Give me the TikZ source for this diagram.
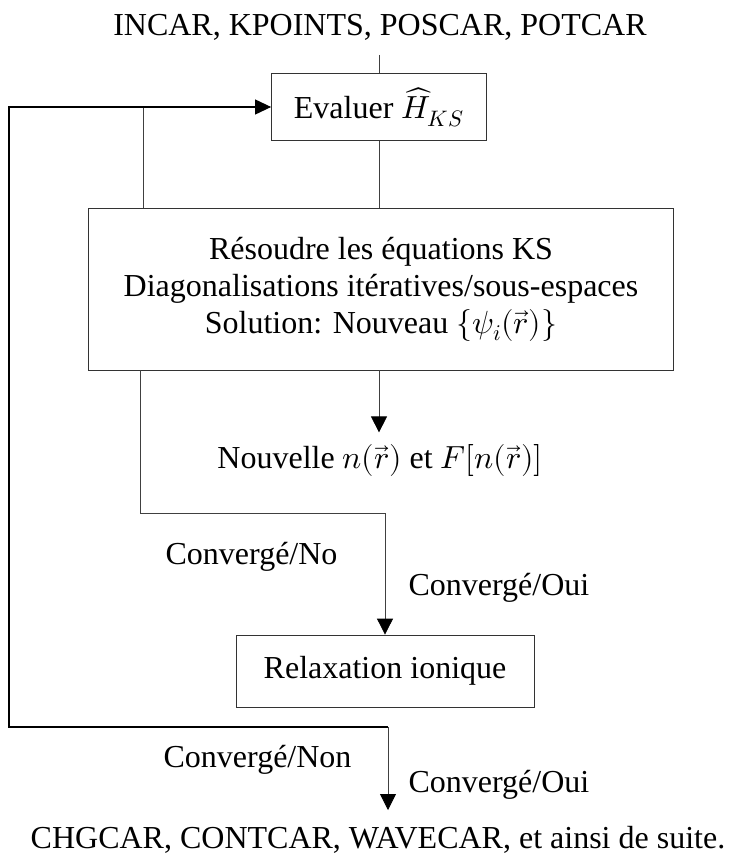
\documentclass[tikz,border=0pt]{standalone}
\usepackage{fontspec}
\usepackage{unicode-math}
\setmainfont{Liberation Serif}
\setmathfont{Latin Modern Math}
\usepackage{tikz}
\usetikzlibrary{arrows.meta, positioning}

\tikzset{
  stagebox/.style={draw=black!80, line width=0.8pt, align=center, inner sep=0pt},
  flowline/.style={draw=black!75, line width=0.8pt},
  flowarrow/.style={flowline, -{Triangle[length=16pt, width=16pt, color=black]}},
  loopline/.style={draw=black, line width=1.1pt, -{Triangle[length=16pt, width=15pt]}},
}

\begin{document}
\begin{tikzpicture}[x=1pt, y=-1pt, font=\fontsize{32}{37}\selectfont]
    \useasboundingbox (0, 0) rectangle (730, 867);
    % inputs and first stage
    \node (inputs) at (380, 27) {INCAR, KPOINTS, POSCAR, POTCAR};
    \node[stagebox, minimum width=215pt, minimum height=67pt] (evaluer) at (379, 107) {Evaluer $\widehat{H}_{KS}$};
    \node[stagebox, minimum width=585pt, minimum height=162pt] (resoudre) at (381, 289)
      {R\'esoudre les \'equations KS\\Diagonalisations it\'eratives/sous-espaces\\Solution: Nouveau $\{\psi_i(\vec{r})\}$};
    \node (nouvelle) at (380, 460) {Nouvelle $n(\vec{r})$ et $F[n(\vec{r})]$};
    \node[stagebox, minimum width=298pt, minimum height=72pt] (relax) at (385, 671) {Relaxation ionique};
    \node (outputs) at (378, 840) {CHGCAR, CONTCAR, WAVECAR, et ainsi de suite.};
    % helper points
    \coordinate (intop) at (379, 55);
    \coordinate (scftop) at (143, 107);
    \coordinate (scfleft) at (140, 370);
    \coordinate (scfcorner) at (140, 513);
    \coordinate (scfright) at (385, 513);
    \coordinate (ionleft) at (9, 727);
    \coordinate (ionright) at (388, 727);
    \coordinate (ionend) at (388, 810);
    % connectors
    \draw[flowline] (intop) -- (evaluer.north);
    \draw[flowline] (evaluer.south) -- (evaluer.south |- resoudre.north);
    \draw[flowline] (scftop) -- (scftop |- resoudre.north);
    \draw[flowarrow] (resoudre.south -| evaluer.south) -- ++(0, 62);
    \draw[flowarrow] (scfleft) -- (scfcorner) -- (scfright) -- (relax.north);
    \draw[loopline] (ionright) -- (ionleft) -- (ionleft |- evaluer.west) -- (evaluer.west);
    \draw[flowarrow] (ionright) -- (ionend);
    % branch labels
    \node[anchor=east] (scfno) at (341, 557) {Converg\'e/No};
    \node[anchor=west] (scfoui) at (405, 588) {Converg\'e/Oui};
    \node[anchor=east] (ionnon) at (355, 760) {Converg\'e/Non};
    \node[anchor=west] (ionoui) at (405, 785) {Converg\'e/Oui};
\end{tikzpicture}
\end{document}
